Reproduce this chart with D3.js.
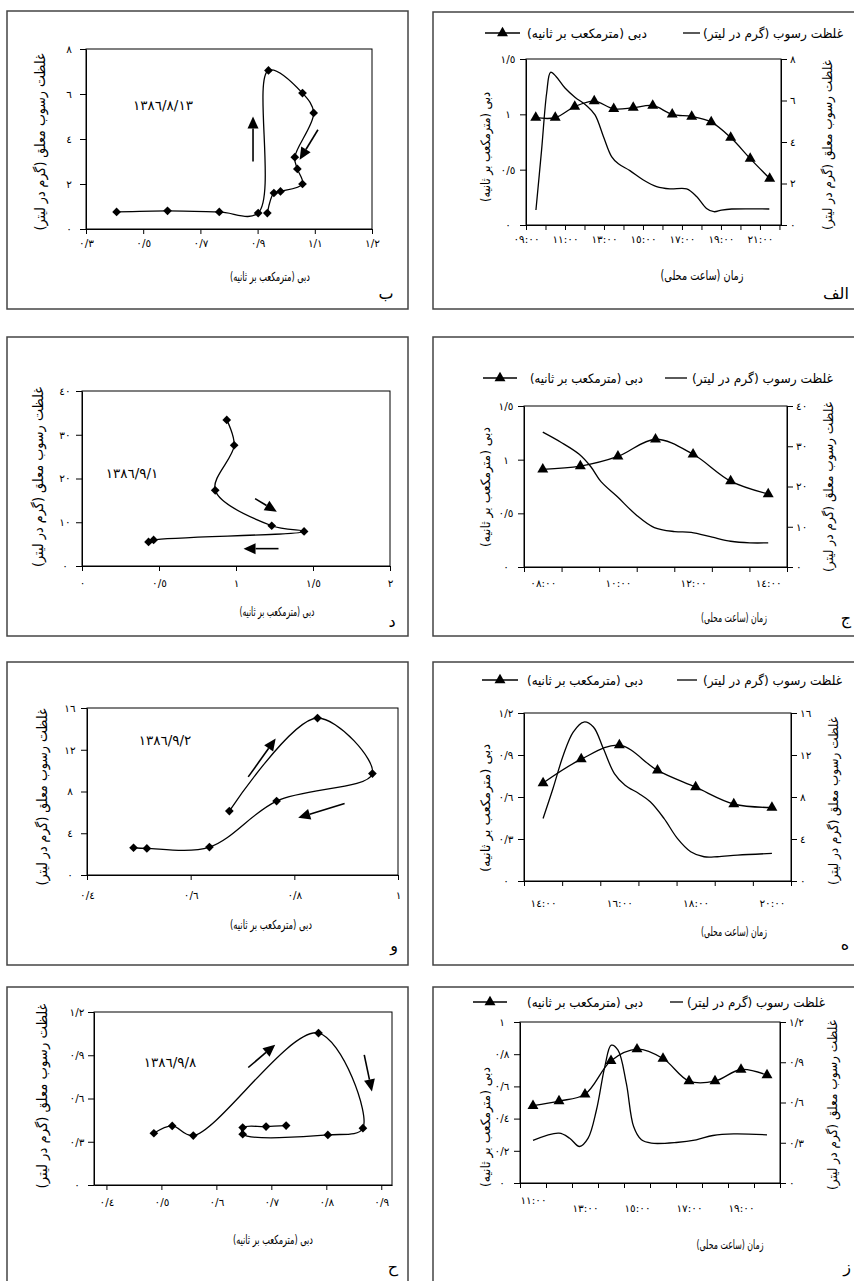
<!DOCTYPE html>
<html lang="fa">
<head>
<meta charset="utf-8">
<title>hysteresis panels</title>
<script src="https://cdn.jsdelivr.net/npm/d3@7"></script>
<style>
  body{margin:0;background:#fff;}
  svg text{font-family:"DejaVu Sans",sans-serif;fill:#000;}
  .fa{direction:rtl;}
</style>
</head>
<body>
<svg id="fig" width="854" height="1281"></svg>
<script>
// ---------- data ----------
// text
var tFlow = "دبی (مترمکعب بر ثانیه)"
var tSedAxis = "غلظت رسوب معلق (گرم در لیتر)"
var tSedLegend = "غلظت رسوب (گرم در لیتر)"
var tTime = "زمان (ساعت محلی)"

// panel الف : time series
var hoursA = [9.5,10.5,11.5,12.5,13.5,14.5,15.5,16.5,17.5,18.5,19.5,20.5,21.5]
var flowA = [0.97,0.97,1.07,1.12,1.05,1.06,1.08,1.00,0.98,0.93,0.79,0.60,0.42]
var sedHoursA = [9.51,9.8,10.06,10.26,10.54,11.0,11.51,12.11,12.54,12.97,13.39,13.74,14.33,15.02,15.7,16.38,17.24,17.75,18.26,18.64,19.03,19.55,21.48]
var sedA = [0.72,3.62,6.36,7.36,7.16,6.6,6.16,5.75,5.31,4.27,3.3,2.95,2.62,2.17,1.85,1.74,1.74,1.37,0.8,0.64,0.72,0.77,0.77]
var tickHoursA = [9,10,11,12,13,14,15,16,17,18,19,20,21,22]
var labelHoursA = [9,11,13,15,17,19,21]
var timeLabelsA = ["٠٩:٠٠","١١:٠٠","١٣:٠٠","١٥:٠٠","١٧:٠٠","١٩:٠٠","٢١:٠٠"]
var flowTicksA = [0,0.5,1,1.5], flowLabelsA = ["٠","٠/٥","١","١/٥"]
var sedTicksA = [0,2,4,6,8], sedLabelsA = ["٠","٢","٤","٦","٨"]

// panel ب : loop 1386/8/13
var flowB = [0.407,0.585,0.766,0.902,0.938,1.057,1.096,1.030,1.039,1.057,0.980,0.957,0.934]
var sedB = [0.76,0.81,0.76,0.71,7.05,6.04,5.16,3.19,2.67,2.0,1.67,1.6,0.71]
var xTicksB = [0.3,0.5,0.7,0.9,1.1,1.3], xLabelsB = ["٠/٣","٠/٥","٠/٧","٠/٩","١/١","١/٢"]
var yTicksB = [0,2,4,6,8], yLabelsB = ["٠","٢","٤","٦","٨"]
var dateB = "١٣٨٦/٨/١٣"

// panel ج : time series
var hoursC = [8,9,10,11,12,13,14]
var flowC = [0.91,0.94,1.03,1.19,1.05,0.80,0.68]
var sedHoursC = [8,8.48,8.97,9.28,9.55,9.98,10.48,10.97,11.51,11.95,12.51,13,13.51,14]
var sedC = [33.5,31.0,28.0,24.9,21.2,17.5,13.0,9.8,8.8,8.6,7.4,6.4,6.0,6.0]
var tickHoursC = [7.5,8.5,9.5,10.5,11.5,12.5,13.5,14.5]
var labelHoursC = [8,10,12,14]
var timeLabelsC = ["٠٨:٠٠","١٠:٠٠","١٢:٠٠","١٤:٠٠"]
var flowTicksC = [0,0.5,1,1.5], flowLabelsC = ["٠","٠/٥","١","١/٥"]
var sedTicksC = [0,10,20,30,40], sedLabelsC = ["٠","١٠","٢٠","٣٠","٤٠"]

// panel د : loop 1386/9/1
var flowD = [0.94,0.988,0.865,1.232,1.442,0.465,0.432]
var sedD = [33.4,27.6,17.3,9.2,7.9,5.95,5.5]
var xTicksD = [0,0.5,1,1.5,2], xLabelsD = ["٠","٠/٥","١","١/٥","٢"]
var yTicksD = [0,10,20,30,40], yLabelsD = ["٠","١٠","٢٠","٣٠","٤٠"]
var dateD = "١٣٨٦/٩/١"

// panel ه : time series
var hoursE = [14,15,16,17,18,19,20]
var flowE = [0.70,0.87,0.97,0.79,0.67,0.55,0.525]
var sedHoursE = [14,14.26,14.53,14.79,15.07,15.32,15.58,15.87,16.15,16.51,16.81,17.17,17.52,17.87,18.22,18.57,19.1,20]
var sedE = [5.96,8.81,11.98,14.19,15.14,14.67,12.61,10.23,9.12,8.33,7.54,5.96,4.06,2.79,2.31,2.31,2.47,2.63]
var tickHoursE = [13.5,14.5,15.5,16.5,17.5,18.5,19.5,20.5]
var labelHoursE = [14,16,18,20]
var timeLabelsE = ["١٤:٠٠","١٦:٠٠","١٨:٠٠","٢٠:٠٠"]
var flowTicksE = [0,0.3,0.6,0.9,1.2], flowLabelsE = ["٠","٠/٣","٠/٦","٠/٩","١/٢"]
var sedTicksE = [0,4,8,12,16], sedLabelsE = ["٠","٤","٨","١٢","١٦"]

// panel و : loop 1386/9/2
var flowF = [0.6746,0.8447,0.9506,0.7658,0.6362,0.5155,0.4898]
var sedF = [6.12,15.04,9.72,7.08,2.68,2.55,2.61]
var xTicksF = [0.4,0.6,0.8,1], xLabelsF = ["٠/٤","٠/٦","٠/٨","١"]
var yTicksF = [0,4,8,12,16], yLabelsF = ["٠","٤","٨","١٢","١٦"]
var dateF = "١٣٨٦/٩/٢"

// panel ز : time series
var hoursG = [11,12,13,14,15,16,17,18,19,20]
var flowG = [0.48,0.509,0.551,0.759,0.831,0.773,0.633,0.633,0.705,0.67]
var sedHoursG = [11,12,12.41,12.79,13.12,13.44,13.76,14.01,14.27,14.59,14.87,15.17,15.55,16.51,17.28,17.92,18.72,20]
var sedG = [0.317,0.371,0.334,0.272,0.334,0.544,0.866,1.027,0.99,0.742,0.421,0.322,0.297,0.302,0.322,0.354,0.366,0.359]
var tickHoursG = [10.5,11.5,12.5,13.5,14.5,15.5,16.5,17.5,18.5,19.5,20.5]
var labelHoursG = [11,13,15,17,19]
var timeLabelsG = ["١١:٠٠","١٣:٠٠","١٥:٠٠","١٧:٠٠","١٩:٠٠"]
var flowTicksG = [0,0.2,0.4,0.6,0.8,1], flowLabelsG = ["٠","٠/٢","٠/٤","٠/٦","٠/٨","١"]
var sedTicksG = [0,0.3,0.6,0.9,1.2], sedLabelsG = ["٠","٠/٣","٠/٦","٠/٩","١/٢"]

// panel ح : loop 1386/9/8
var flowH = [0.4863,0.5197,0.558,0.7858,0.8666,0.8028,0.6479,0.6479,0.6904,0.7269]
var sedH = [0.359,0.41,0.343,1.054,0.394,0.347,0.352,0.398,0.405,0.412]
var xTicksH = [0.4,0.5,0.6,0.7,0.8,0.9], xLabelsH = ["٠/٤","٠/٥","٠/٦","٠/٧","٠/٨","٠/٩"]
var yTicksH = [0,0.3,0.6,0.9,1.2], yLabelsH = ["٠","٠/٣","٠/٦","٠/٩","١/٢"]
var dateH = "١٣٨٦/٩/٨"

// ---------- drawing ----------
var svg = d3.select("#fig")
var smooth = d3.curveCatmullRom.alpha(0.5)

function faText(g, str, x, y, size, len, rot){
  var t = g.append("text").attr("class","fa").text(str)
    .attr("text-anchor","middle").attr("font-size",size).attr("dy","0.35em")
  if (rot) t.attr("transform","translate("+x+","+y+") rotate(-90)")
  else t.attr("x",x).attr("y",y)
  if (len) t.attr("textLength",len).attr("lengthAdjust","spacingAndGlyphs")
  return t
}

function styleAxis(a){
  a.attr("font-family",null).attr("font-size",null)
  a.selectAll("path,line").attr("stroke","#000")
  a.selectAll("text").attr("font-size",10.5).attr("fill","#000")
}

function arrow(g, p0, p1){
  var a = Math.atan2(p1[1]-p0[1], p1[0]-p0[0]), L = 12, W = 5.5
  var bx = p1[0]-L*Math.cos(a), by = p1[1]-L*Math.sin(a)
  g.append("line").attr("x1",p0[0]).attr("y1",p0[1]).attr("x2",bx).attr("y2",by)
    .attr("stroke","#000").attr("stroke-width",1.6)
  g.append("path").attr("fill","#000")
    .attr("d","M"+p1[0]+","+p1[1]+"L"+(bx-W*Math.sin(a))+","+(by+W*Math.cos(a))+"L"+(bx+W*Math.sin(a))+","+(by-W*Math.cos(a))+"Z")
}

// outer frames of the eight panels
var frames = [[7,11,408,309],[433,12,870,309],[7,337,408,636],[433,337,870,636],
              [7,662,408,965],[433,662,870,965],[7,987,408,1295],[433,987,870,1295]]
frames.forEach(function(f){
  svg.append("rect").attr("x",f[0]).attr("y",f[1]).attr("width",f[2]-f[0]).attr("height",f[3]-f[1])
    .attr("fill","none").attr("stroke","#444").attr("stroke-width",1.5)
})

var tri = d3.symbol(d3.symbolTriangle).size(52)
var dia = d3.symbol(d3.symbolSquare).size(38)

function timePanel(p){
  var g = svg.append("g")
  var x = d3.scaleLinear().domain(p.tDomain).range([p.left,p.right])
  var yL = d3.scaleLinear().domain([0,p.flowMax]).range([p.bottom,p.top])
  var yR = d3.scaleLinear().domain([0,p.sedMax]).range([p.bottom,p.top])

  g.append("rect").attr("x",p.left).attr("y",p.top).attr("width",p.right-p.left).attr("height",p.bottom-p.top)
    .attr("fill","none").attr("stroke","#000")

  var al = g.append("g").attr("transform","translate("+p.left+",0)")
    .call(d3.axisLeft(yL).tickValues(p.flowTicks).tickFormat(function(d,i){return p.flowLabels[i]}).tickSize(6).tickSizeOuter(0))
  al.selectAll("text").attr("text-anchor","middle").attr("x",-18)
  styleAxis(al)

  var ar = g.append("g").attr("transform","translate("+p.right+",0)")
    .call(d3.axisRight(yR).tickValues(p.sedTicks).tickFormat(function(d,i){return p.sedLabels[i]}).tickSize(6).tickSizeOuter(0).tickPadding(3))
  styleAxis(ar)

  var at = g.append("g").attr("transform","translate(0,"+p.bottom+")")
    .call(d3.axisBottom(x).tickValues(p.tickHours).tickFormat("").tickSize(5).tickSizeOuter(0))
  styleAxis(at)

  var lb = g.append("g").attr("transform","translate(0,"+p.bottom+")")
    .call(d3.axisBottom(x).tickValues(p.labelHours).tickFormat(function(d,i){return p.timeLabels[i]}).tickSize(0).tickPadding(p.labOff-3.6))
  lb.select(".domain").remove()
  styleAxis(lb)
  if (p.firstLabOff) lb.select(".tick text").attr("y",p.firstLabOff-3.6)

  g.append("path").datum(d3.zip(p.sedHours,p.sed))
    .attr("d",d3.line().x(function(d){return x(d[0])}).y(function(d){return yR(d[1])}).curve(smooth))
    .attr("fill","none").attr("stroke","#000").attr("stroke-width",1.3)

  g.append("path").datum(d3.zip(p.hours,p.flow))
    .attr("d",d3.line().x(function(d){return x(d[0])}).y(function(d){return yL(d[1])}).curve(smooth))
    .attr("fill","none").attr("stroke","#000").attr("stroke-width",1.3)
  g.selectAll(".tri").data(d3.zip(p.hours,p.flow)).enter().append("path")
    .attr("d",tri).attr("fill","#000")
    .attr("transform",function(d){return "translate("+x(d[0])+","+yL(d[1])+")"})

  // legend
  var L = p.legend, ly = L.y
  faText(g,tSedLegend,(L.t1[0]+L.t1[1])/2,ly,13,L.t1[1]-L.t1[0])
  g.append("line").attr("x1",L.s1[0]).attr("x2",L.s1[1]).attr("y1",ly).attr("y2",ly).attr("stroke","#000").attr("stroke-width",1.3)
  faText(g,tFlow,(L.t2[0]+L.t2[1])/2,ly,13,L.t2[1]-L.t2[0])
  g.append("line").attr("x1",L.s2[0]).attr("x2",L.s2[1]).attr("y1",ly).attr("y2",ly).attr("stroke","#000").attr("stroke-width",1.3)
  g.append("path").attr("d",tri).attr("transform","translate("+((L.s2[0]+L.s2[1])/2)+","+ly+")")

  // axis titles and panel letter
  faText(g,tFlow,p.yl[0],p.yl[1],13,p.yl[2],true)
  faText(g,tSedAxis,p.yr[0],p.yr[1],13,p.yr[2],true)
  faText(g,tTime,p.xt[0],p.xt[1],p.xt[3],p.xt[2])
  faText(g,p.letter,p.let[0],p.let[1],16)
}

function loopPanel(p){
  var g = svg.append("g")
  var x = d3.scaleLinear().domain(p.xDomain).range([p.left,p.right])
  var y = d3.scaleLinear().domain([0,p.yMax]).range([p.bottom,p.top])

  g.append("rect").attr("x",p.left).attr("y",p.top).attr("width",p.right-p.left).attr("height",p.bottom-p.top)
    .attr("fill","none").attr("stroke","#000")

  var ay = g.append("g").attr("transform","translate("+p.left+",0)")
    .call(d3.axisLeft(y).tickValues(p.yTicks).tickFormat(function(d,i){return p.yLabels[i]}).tickSize(6).tickSizeOuter(0))
  ay.selectAll("text").attr("text-anchor","middle").attr("x",-17)
  styleAxis(ay)

  var ax = g.append("g").attr("transform","translate(0,"+p.bottom+")")
    .call(d3.axisBottom(x).tickValues(p.xTicks).tickFormat(function(d,i){return p.xLabels[i]}).tickSize(5).tickSizeOuter(0).tickPadding(p.labOff-8.6))
  styleAxis(ax)

  var pts = d3.zip(p.flow,p.sed)
  g.append("path").datum(pts)
    .attr("d",d3.line().x(function(d){return x(d[0])}).y(function(d){return y(d[1])}).curve(smooth))
    .attr("fill","none").attr("stroke","#000").attr("stroke-width",1.3)
  g.selectAll(".dia").data(pts).enter().append("path")
    .attr("d",dia).attr("fill","#000")
    .attr("transform",function(d){return "translate("+x(d[0])+","+y(d[1])+") rotate(45)"})

  p.arrows.forEach(function(a){
    arrow(g,[x(a[0][0]),y(a[0][1])],[x(a[1][0]),y(a[1][1])])
  })

  g.append("text").text(p.date).attr("x",p.dpos[0]).attr("y",p.dpos[1]).attr("dy","0.35em")
    .attr("text-anchor","middle").attr("font-size",13.5)

  faText(g,tSedAxis,p.yt[0],p.yt[1],14,p.yt[2],true)
  faText(g,tFlow,p.xt[0],p.xt[1],12.5,p.xt[2])
  faText(g,p.letter,p.let[0],p.let[1],16)
}

timePanel({left:526,right:781,top:59,bottom:225,tDomain:[9,22.08],flowMax:1.5,sedMax:8,
  hours:hoursA,flow:flowA,sedHours:sedHoursA,sed:sedA,tickHours:tickHoursA,labelHours:labelHoursA,timeLabels:timeLabelsA,
  flowTicks:flowTicksA,flowLabels:flowLabelsA,sedTicks:sedTicksA,sedLabels:sedLabelsA,labOff:14,
  legend:{y:33,t1:[703,843],s1:[683,700],t2:[527,647],s2:[485,520]},
  yl:[485,147,110],yr:[827,145,170],xt:[702,275,83,13.5],letter:"الف",let:[836,293]})

loopPanel({left:86,right:372,top:49,bottom:229,xDomain:[0.3,1.3],yMax:8,
  flow:flowB,sed:sedB,xTicks:xTicksB,xLabels:xLabelsB,yTicks:yTicksB,yLabels:yLabelsB,labOff:14,
  arrows:[[[0.884,3.0],[0.884,5.0]],[[1.111,4.41],[1.047,3.08]]],
  date:dateB,dpos:[163,105],yt:[40,142,177],xt:[270,277,80],letter:"ب",let:[386,293]})

timePanel({left:524,right:787,top:406,bottom:567,tDomain:[7.5,14.5],flowMax:1.5,sedMax:40,
  hours:hoursC,flow:flowC,sedHours:sedHoursC,sed:sedC,tickHours:tickHoursC,labelHours:labelHoursC,timeLabels:timeLabelsC,
  flowTicks:flowTicksC,flowLabels:flowLabelsC,sedTicks:sedTicksC,sedLabels:sedLabelsC,labOff:16,
  legend:{y:378,t1:[692,833],s1:[665,687],t2:[530,643],s2:[483,517]},
  yl:[485,487,120],yr:[828,487,170],xt:[734,618,66,12.5],letter:"ج",let:[846,618]})

loopPanel({left:82,right:390,top:391,bottom:566,xDomain:[0,2],yMax:40,
  flow:flowD,sed:sedD,xTicks:xTicksD,xLabels:xLabelsD,yTicks:yTicksD,yLabels:yLabelsD,labOff:17,
  arrows:[[[1.124,15.4],[1.265,12.4]],[[1.276,3.97],[1.049,3.97]]],
  date:dateD,dpos:[132,473],yt:[38,477,180],xt:[277,612,75],letter:"د",let:[392,621]})

timePanel({left:524,right:791,top:713,bottom:881,tDomain:[13.5,20.5],flowMax:1.2,sedMax:16,
  hours:hoursE,flow:flowE,sedHours:sedHoursE,sed:sedE,tickHours:tickHoursE,labelHours:labelHoursE,timeLabels:timeLabelsE,
  flowTicks:flowTicksE,flowLabels:flowLabelsE,sedTicks:sedTicksE,sedLabels:sedLabelsE,labOff:22,
  legend:{y:680,t1:[703,842],s1:[677,697],t2:[527,643],s2:[482,518]},
  yl:[485,808,128],yr:[833,801,168],xt:[734,932,66,12.5],letter:"ه",let:[845,944]})

loopPanel({left:87,right:398,top:708,bottom:875,xDomain:[0.4,1.0],yMax:16,
  flow:flowF,sed:sedF,xTicks:xTicksF,xLabels:xLabelsF,yTicks:yTicksF,yLabels:yLabelsF,labOff:20,
  arrows:[[[0.711,9.4],[0.764,13.07]],[[0.897,6.85],[0.8075,5.48]]],
  date:dateF,dpos:[165,740],yt:[42,797,177],xt:[271,925,82],letter:"و",let:[394,945]})

timePanel({left:520,right:780,top:1022,bottom:1183,tDomain:[10.5,20.5],flowMax:1,sedMax:1.2,
  hours:hoursG,flow:flowG,sedHours:sedHoursG,sed:sedG,tickHours:tickHoursG,labelHours:labelHoursG,timeLabels:timeLabelsG,
  flowTicks:flowTicksG,flowLabels:flowLabelsG,sedTicks:sedTicksG,sedLabels:sedLabelsG,labOff:25,firstLabOff:17,
  legend:{y:1002,t1:[687,825],s1:[670,683],t2:[527,643],s2:[473,507]},
  yl:[485,1127,120],yr:[832,1105,170],xt:[730,1245,67,12.5],letter:"ز",let:[847,1266]})

loopPanel({left:94,right:392,top:1012,bottom:1185,xDomain:[0.3774,0.9195],yMax:1.2,
  flow:flowH,sed:sedH,xTicks:xTicksH,xLabels:xLabelsH,yTicks:yTicksH,yLabels:yLabelsH,labOff:17,
  arrows:[[[0.658,0.815],[0.707,0.973]],[[0.869,0.903],[0.883,0.649]]],
  date:dateH,dpos:[170,1062],yt:[42,1096,185],xt:[273,1240,80],letter:"ح",let:[393,1266]})
</script>
</body>
</html>
